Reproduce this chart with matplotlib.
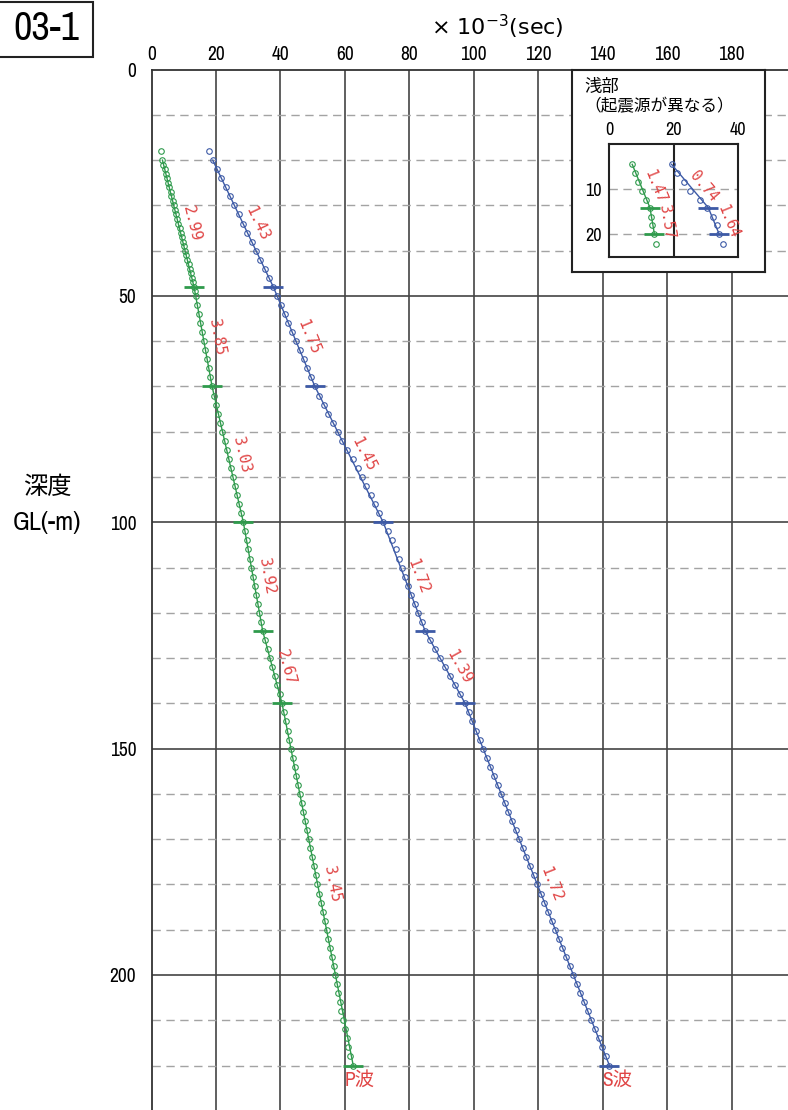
import numpy as np
import matplotlib
matplotlib.use("Agg")
import matplotlib.pyplot as plt
from matplotlib import font_manager as fm

# ---------------- data ----------------
P_DEPTH = [18] + list(range(20, 51)) + list(range(52, 221, 2))
P_TIME = [2.8,
          3.4, 3.7, 4.1, 4.4, 4.8, 5.2, 5.5, 5.9, 6.2, 6.6, 6.9, 7.3, 7.6, 8.0, 8.3, 8.7,
          9.0, 9.4, 9.7, 10.1, 10.4, 10.8, 11.1, 11.5, 11.8, 12.2, 12.5, 12.9, 13.2, 13.5, 13.7,
          14.2, 14.7, 15.2, 15.7, 16.2, 16.7, 17.3, 17.8, 18.3, 18.8,
          19.4, 20.1, 20.7, 21.4, 22.0, 22.7, 23.3, 24.0, 24.6, 25.3, 25.9, 26.6, 27.2, 27.9, 28.5,
          29.0, 29.5, 30.0, 30.5, 31.0, 31.5, 32.0, 32.5, 33.0, 33.5, 34.0, 34.5,
          35.3, 36.0, 36.8, 37.5, 38.3, 39.0, 39.8, 40.5,
          41.1, 41.6, 42.2, 42.7, 43.3, 43.8, 44.4, 44.9, 45.5, 46.0, 46.6, 47.1, 47.7, 48.2,
          48.8, 49.3, 49.9, 50.4, 51.0, 51.5, 52.1, 52.6, 53.2, 53.7, 54.3, 54.8, 55.4, 55.9,
          56.5, 57.0, 57.6, 57.9, 58.4, 58.9, 59.5, 60.0, 60.6, 61.1, 61.7, 62.6]
S_DEPTH = list(range(18, 221, 2))
S_TIME = [17.8,
          19.0, 20.3, 21.7, 23.0, 24.4, 25.7, 27.1, 28.4, 29.7, 31.1, 32.4, 33.8, 35.1, 36.5, 37.8,
          39.0, 40.1, 41.3, 42.5, 43.7, 44.8, 46.0, 47.2, 48.4, 49.5, 50.7,
          52.1, 53.5, 54.9, 56.4, 57.8, 59.2, 60.6, 62.6, 64.0, 65.4, 66.7, 68.0, 69.5, 70.5, 71.9,
          73.5, 74.7, 75.8, 76.8, 77.8, 78.8, 79.5, 80.6, 81.7, 82.7, 83.8, 84.9,
          86.5, 88.0, 89.6, 91.1, 92.7, 94.2, 95.8, 97.3,
          98.4, 99.5, 100.7, 101.8, 102.9, 104.0, 105.1, 106.3, 107.4, 108.5, 109.6, 110.7,
          111.9, 113.0, 114.1, 115.2, 116.3, 117.5, 118.6, 119.7, 120.8, 121.9, 123.1, 124.2,
          125.3, 126.4, 127.5, 128.7, 129.8, 130.9, 132.0, 133.1, 134.3, 135.4, 136.5, 137.6,
          138.7, 139.9, 141.0, 142.1]
BREAK_DEPTH = [20, 48, 70, 100, 124, 140, 220]
P_BREAK_TIME = [3.4, 13.2, 18.8, 28.5, 34.5, 40.5, 62.6]
S_BREAK_TIME = [19.0, 37.8, 50.7, 71.9, 84.9, 97.3, 142.1]
P_VEL = ["2.99", "3.85", "3.03", "3.92", "2.67", "3.45"]
S_VEL = ["1.43", "1.75", "1.45", "1.72", "1.39", "1.72"]
X_TICKS = [0, 20, 40, 60, 80, 100, 120, 140, 160, 180]
Y_TICKS = [0, 50, 100, 150, 200]

INSET_DEPTH = [4.5, 6.5, 8.5, 10.3, 12.3, 14.2, 16.2, 18.0, 20.0, 22.2]
INSET_P_TIME = [7.2, 8.0, 8.9, 10.2, 11.4, 12.6, 13.0, 13.3, 13.8, 14.5]
INSET_S_TIME = [19.4, 21.2, 23.3, 25.1, 28.2, 30.3, 32.3, 33.4, 34.0, 35.3]
INSET_BREAK_DEPTH = [4.5, 14.1, 20.0]
INSET_P_BREAK = [7.2, 12.7, 14.1]
INSET_S_BREAK = [19.4, 30.8, 34.2]
INSET_P_VEL = ["1.47", "3.57"]
INSET_S_VEL = ["0.74", "1.64"]
INSET_X_TICKS = [0, 20, 40]
INSET_Y_TICKS = [10, 20]

# ---------------- fonts ----------------
NARROW, STRETCH = "Liberation Sans", "normal"
_fl = fm.fontManager.ttflist
_n = [f for f in _fl if ("Narrow" in f.name or "Condensed" in f.name)
      and f.style == "normal" and f.weight in (400, "normal", "regular")]
if _n:
    NARROW = _n[0].name
else:
    _c = [f for f in _fl if str(f.stretch) in ("condensed", "semi-condensed", "extra-condensed")
          and f.style == "normal" and f.weight in (400, "normal", "regular")]
    if _c:
        NARROW, STRETCH = _c[0].name, _c[0].stretch
JP = "Noto Sans CJK JP"
TXT = dict(family=[NARROW, JP], fontstretch=STRETCH)

GREEN = "#2f9a4c"
BLUE = "#3d5aa6"
RED = "#e04545"
DARK = "#444444"
DASH = "#a3a3a3"

W, H = 788, 1110
fig = plt.figure(figsize=(W / 100, H / 100), dpi=100)

x0px, y0px = 151.5, 69.6
ax = fig.add_axes([x0px / W, 0, (W - x0px) / W, (H - y0px) / H])
ax.set_xlim(0, (W - x0px) / 3.223)
ax.set_ylim((H - y0px) / 4.527, 0)

for v in X_TICKS[1:]:
    ax.axvline(v, color=DARK, lw=1.2, zorder=1)
for d in range(10, 230, 10):
    if d % 50 == 0:
        ax.axhline(d, color=DARK, lw=1.2, zorder=1)
    else:
        ax.axhline(d, color=DASH, lw=1.0, dashes=(6, 4), zorder=1)

ax.xaxis.tick_top()
ax.set_xticks(X_TICKS)
ax.set_yticks(Y_TICKS)
ax.tick_params(axis="x", length=0, pad=4, labelsize=14)
ax.tick_params(axis="y", length=0, pad=11, labelsize=14)
for lab in ax.get_xticklabels() + ax.get_yticklabels():
    lab.set_fontfamily(NARROW)
    lab.set_fontstretch(STRETCH)
for s in ["right", "bottom"]:
    ax.spines[s].set_visible(False)
for s in ["left", "top"]:
    ax.spines[s].set_linewidth(1.3)
    ax.spines[s].set_color("#333333")


def draw_series(a, depth, time, bdepth, btime, vels, color, msize, tick_size, fs, off):
    a.plot(time, depth, linestyle="none", marker="o", ms=msize, mfc="none",
           mec=color, mew=0.8, zorder=3)
    a.plot(btime, bdepth, color=color, lw=1.0, zorder=4)
    a.plot(btime[1:], bdepth[1:], linestyle="none", marker="_", ms=tick_size,
           mew=2.0, color=color, zorder=5)
    for i, lab in enumerate(vels):
        p0 = a.transData.transform((btime[i], bdepth[i]))
        p1 = a.transData.transform((btime[i + 1], bdepth[i + 1]))
        ang = np.degrees(np.arctan2(p1[1] - p0[1], p1[0] - p0[0]))
        a.annotate(lab, ((btime[i] + btime[i + 1]) / 2, (bdepth[i] + bdepth[i + 1]) / 2),
                   xytext=(off, 0), textcoords="offset points", rotation=ang,
                   rotation_mode="anchor", ha="center", va="center", color=RED,
                   fontsize=fs, family="DejaVu Sans Mono", zorder=6)


draw_series(ax, P_DEPTH, P_TIME, BREAK_DEPTH, P_BREAK_TIME, P_VEL, GREEN, 4, 14, 11, 10)
draw_series(ax, S_DEPTH, S_TIME, BREAK_DEPTH, S_BREAK_TIME, S_VEL, BLUE, 4, 14, 11, 10)

ax.annotate("P波", (P_BREAK_TIME[-1], BREAK_DEPTH[-1]), xytext=(-6, -11),
            textcoords="offset points", ha="left", va="center", color=RED,
            fontsize=14, zorder=6, **TXT)
ax.annotate("S波", (S_BREAK_TIME[-1], BREAK_DEPTH[-1]), xytext=(-5, -11),
            textcoords="offset points", ha="left", va="center", color=RED,
            fontsize=14, zorder=6, **TXT)

# ---------------- inset ----------------
box = fig.add_axes([572.3 / W, 1 - 272.3 / H, 192.7 / W, 202.3 / H])
box.set_zorder(5)
box.set_xticks([])
box.set_yticks([])
for s in box.spines.values():
    s.set_linewidth(1.5)
    s.set_color("#222222")
box.set_facecolor("white")

ins = fig.add_axes([609 / W, 1 - 257 / H, 129 / W, 113 / H])
ins.set_zorder(6)
ins.set_xlim(0, 40)
ins.set_ylim(25, 0)
ins.axvline(20, color="#222222", lw=1.5, zorder=1)
for d in INSET_Y_TICKS:
    ins.axhline(d, color=DASH, lw=1.0, dashes=(6, 4), zorder=1)
ins.xaxis.tick_top()
ins.set_xticks(INSET_X_TICKS)
ins.set_yticks(INSET_Y_TICKS)
ins.tick_params(axis="x", length=0, pad=4, labelsize=13)
ins.tick_params(axis="y", length=0, pad=5, labelsize=13)
for lab in ins.get_xticklabels() + ins.get_yticklabels():
    lab.set_fontfamily(NARROW)
    lab.set_fontstretch(STRETCH)
for s in ins.spines.values():
    s.set_linewidth(1.5)
    s.set_color("#222222")

draw_series(ins, INSET_DEPTH, INSET_P_TIME, INSET_BREAK_DEPTH, INSET_P_BREAK, INSET_P_VEL,
            GREEN, 4, 14, 10.5, 10)
draw_series(ins, INSET_DEPTH, INSET_S_TIME, INSET_BREAK_DEPTH, INSET_S_BREAK, INSET_S_VEL,
            BLUE, 4, 14, 10.5, 10)

fig.text(584 / W, 1 - 87 / H, "浅部", fontsize=12.5, family=JP, ha="left", va="center",
         zorder=10)
fig.text(584 / W, 1 - 107 / H, "（起震源が異なる）", fontsize=12, family=JP, ha="left",
         va="center", zorder=10)

# ---------------- titles ----------------
fig.text(497 / W, 1 - 27 / H, r"× 10$^{-3}$(sec)", fontsize=16, family="DejaVu Sans",
         ha="center", va="center")
fig.text(47 / W, 1 - 487 / H, "深度", fontsize=17.5, family=JP, ha="center", va="center")
fig.text(47 / W, 1 - 522 / H, "GL(-m)", fontsize=19, ha="center", va="center", **TXT)

fig.patches.append(plt.Rectangle((-2 / W, 1 - 57 / H), 95 / W, 55 / H,
                                 transform=fig.transFigure, fill=False, lw=1.5,
                                 edgecolor="#222222"))
fig.text(46 / W, 1 - 29 / H, "03-1", fontsize=29, ha="center", va="center", **TXT)

fig.savefig("out.png", dpi=100)
